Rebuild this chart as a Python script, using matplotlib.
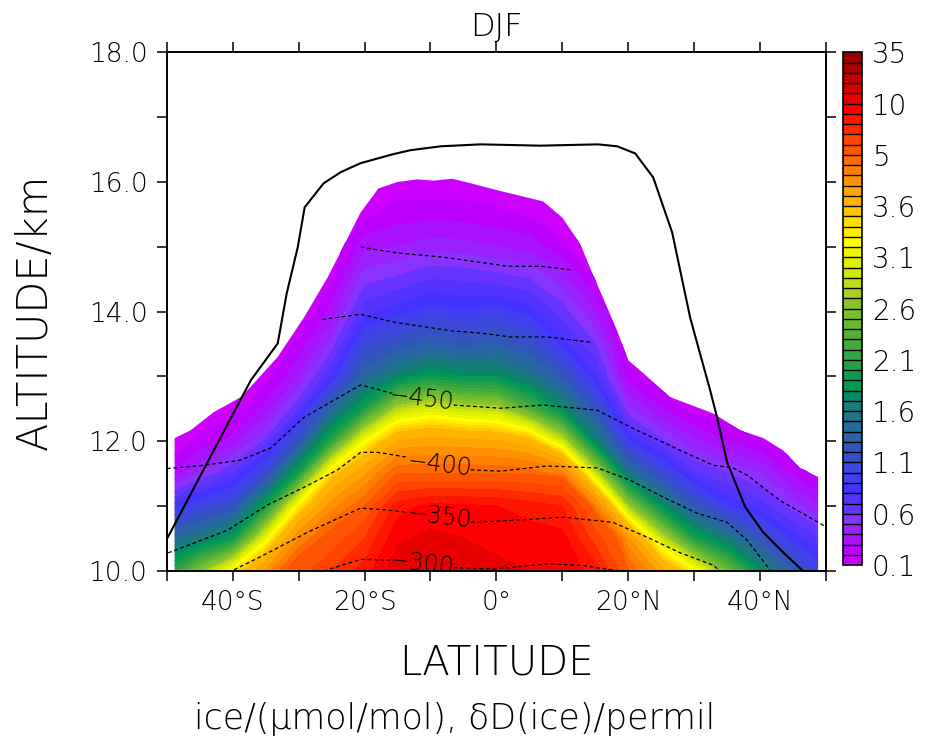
import numpy as np
import matplotlib
matplotlib.use('Agg')
import matplotlib.pyplot as plt
from matplotlib.patches import Polygon

plt.rcParams['font.family'] = ['DejaVu Sans']
plt.rcParams['font.weight'] = 'light'
plt.rcParams['axes.labelweight'] = 'light'
plt.rcParams['axes.titleweight'] = 'light'

# ---- ice mixing ratio (umol/mol) ----
lat = [-48.8, -45, -40, -35, -30, -25, -20, -15, -10, -5, 0,
       5, 10, 15, 20, 25, 30, 35, 40, 45, 48.8]
alt = [10, 10.5, 11, 11.5, 12, 12.5, 13, 13.5, 14, 14.5, 15, 15.5, 16, 16.5]

# one list per latitude, values from 10 km upward
ice_cols = [
    [2.1, 1.45, 0.85, 0.3, 0.13, 0.12, 0.12, 0.12, 0.12, 0.12, 0.12, 0.12, 0.12, 0.12],
    [2.6, 1.6, 1.0, 0.5, 0.22, 0.12, 0.12, 0.12, 0.12, 0.12, 0.12, 0.12, 0.12, 0.12],
    [3.3, 1.9, 1.15, 0.7, 0.33, 0.15, 0.12, 0.12, 0.12, 0.12, 0.12, 0.12, 0.12, 0.12],
    [4.2, 3.1, 1.95, 1.1, 0.62, 0.33, 0.15, 0.12, 0.12, 0.12, 0.12, 0.12, 0.12, 0.12],
    [5.5, 4.4, 3.3, 2.0, 1.2, 0.68, 0.4, 0.22, 0.12, 0.12, 0.12, 0.12, 0.12, 0.12],
    [7.0, 5.3, 4.3, 3.45, 2.1, 1.4, 0.8, 0.53, 0.33, 0.17, 0.12, 0.12, 0.12, 0.12],
    [8.5, 7.0, 5.0, 4.1, 3.2, 2.0, 1.4, 1.05, 0.76, 0.56, 0.36, 0.17, 0.12, 0.12],
    [10.8, 9.8, 8.5, 5.0, 3.9, 2.8, 1.7, 1.2, 0.85, 0.62, 0.4, 0.25, 0.13, 0.12],
    [11.5, 10.3, 9.3, 5.0, 4.0, 3.0, 1.9, 1.3, 0.95, 0.7, 0.45, 0.26, 0.13, 0.12],
    [11.0, 10.0, 9.2, 5.0, 3.95, 2.85, 1.8, 1.25, 0.9, 0.68, 0.44, 0.25, 0.13, 0.12],
    [10.2, 9.8, 9.0, 5.0, 3.9, 2.8, 1.8, 1.3, 0.95, 0.65, 0.4, 0.22, 0.12, 0.12],
    [10.0, 9.6, 8.5, 4.9, 3.7, 2.3, 1.55, 1.15, 0.85, 0.6, 0.36, 0.18, 0.12, 0.12],
    [9.8, 9.4, 8.0, 4.6, 2.9, 1.75, 1.25, 0.85, 0.65, 0.45, 0.22, 0.12, 0.12, 0.12],
    [8.5, 6.5, 4.5, 2.9, 1.7, 1.2, 0.8, 0.6, 0.38, 0.2, 0.12, 0.12, 0.12, 0.12],
    [5.0, 4.2, 2.7, 1.55, 0.9, 0.52, 0.25, 0.12, 0.12, 0.12, 0.12, 0.12, 0.12, 0.12],
    [4.0, 2.9, 1.8, 1.1, 0.62, 0.3, 0.12, 0.12, 0.12, 0.12, 0.12, 0.12, 0.12, 0.12],
    [3.3, 2.0, 1.25, 0.72, 0.42, 0.15, 0.12, 0.12, 0.12, 0.12, 0.12, 0.12, 0.12, 0.12],
    [2.5, 1.6, 0.9, 0.6, 0.3, 0.12, 0.12, 0.12, 0.12, 0.12, 0.12, 0.12, 0.12, 0.12],
    [1.8, 1.2, 0.75, 0.5, 0.2, 0.12, 0.12, 0.12, 0.12, 0.12, 0.12, 0.12, 0.12, 0.12],
    [1.3, 0.85, 0.55, 0.28, 0.12, 0.12, 0.12, 0.12, 0.12, 0.12, 0.12, 0.12, 0.12, 0.12],
    [1.0, 0.7, 0.4, 0.15, 0.12, 0.12, 0.12, 0.12, 0.12, 0.12, 0.12, 0.12, 0.12, 0.12],
]
ice = np.array(ice_cols).T

# upper edge of the ice field (where it ends)
edge_lat = [-48.8, -46.4, -42.9, -38.8, -37.3, -33.2, -29.2, -25.6, -20.6, -17.9,
            -15.0, -12.0, -9.5, -6.7, -3.9, 0.6, 7.1, 10.0, 12.7, 14.2, 18.3,
            20.0, 21.4, 25.2, 26.4, 32.9, 37.0, 40.5, 43.5, 46.1, 48.8]
edge_alt = [12.05, 12.17, 12.45, 12.68, 12.84, 13.3, 13.91, 14.53, 15.53, 15.9,
            16.0, 16.04, 16.02, 16.05, 15.98, 15.86, 15.7, 15.45, 15.05, 14.68, 13.71,
            13.25, 13.13, 12.79, 12.68, 12.43, 12.17, 12.05, 11.86, 11.59, 11.45]

levels = [0.1, 0.2, 0.3, 0.4, 0.5, 0.6, 0.7, 0.8, 0.9, 1.0,
          1.1, 1.2, 1.3, 1.4, 1.5, 1.6, 1.7, 1.8, 1.9, 2.0,
          2.1, 2.2, 2.3, 2.4, 2.5, 2.6, 2.7, 2.8, 2.9, 3.0,
          3.1, 3.2, 3.3, 3.4, 3.5, 3.6, 3.88, 4.16, 4.44, 4.72,
          5, 6, 7, 8, 9, 10, 15, 20, 25, 30, 35]
cb_ticks = [0.1, 0.6, 1.1, 1.6, 2.1, 2.6, 3.1, 3.6, 5, 10, 35]
cb_labels = ['0.1', '0.6', '1.1', '1.6', '2.1', '2.6', '3.1', '3.6', '5', '10', '35']

colors = ['#cc00ff', '#bb00ff', '#aa11ff', '#9922ff', '#8833ff', '#6633ff', '#5533ff',
          '#4433ff', '#4040ee', '#3c48dd', '#3650cc', '#3058bb', '#2b62aa', '#266a9a',
          '#1f7488', '#157e78', '#0a8866', '#009955', '#119950', '#22a048', '#33a540',
          '#44aa40', '#55b038', '#66bb33', '#77c030', '#88c428', '#a8d020', '#c0dc18',
          '#d4e800', '#e0f000', '#eef500', '#ffff00', '#ffee00', '#ffdd00', '#ffc800',
          '#ffb400', '#ffa500', '#ff9000', '#ff7f00', '#ff6a00', '#ff5500', '#ff4400',
          '#ff2a00', '#ff1500', '#ff0000', '#e80000', '#d40000', '#c00000', '#aa0000',
          '#990000']

# ---- solid line ----
tp_lat = [-49.85, -37.27, -33.18, -31.82, -30.15, -29.09, -26.21, -23.64, -20.61,
          -15.61, -13.03, -8.48, -2.42, 6.67, 15.45, 18.33, 21.06, 23.79, 26.67,
          29.39, 32.42, 33.48, 35.0, 37.73, 40.45, 43.48, 46.52]
tp_alt = [10.52, 12.94, 13.51, 14.28, 14.99, 15.61, 15.98, 16.15, 16.29,
          16.43, 16.49, 16.55, 16.58, 16.56, 16.58, 16.55, 16.44, 16.07, 15.22,
          13.91, 12.79, 12.37, 11.68, 10.99, 10.60, 10.29, 10.0]

# ---- dD(ice) contours (permil) ----
d550_lat = [-20.6, -18.0, -14.5, -8.0, -2.4, 1.7, 6.7, 11.7]
d550_alt = [15.0, 14.95, 14.9, 14.84, 14.76, 14.70, 14.70, 14.64]

d500_lat = [-26.4, -20.6, -15.6, -10.5, -6.5, -2.4, 2.1, 7.7, 14.2]
d500_alt = [13.88, 13.96, 13.84, 13.76, 13.70, 13.67, 13.61, 13.61, 13.53]

d450_lat = [-50.0, -45.3, -38.8, -34.2, -29.2, -20.6, -15.8, None,
            -6.5, 0.6, 7.1, 15.3, 20.3, 27.9, 32.9, 35.9, 38.0, 43.0, 50.0]
d450_alt = [11.58, 11.62, 11.71, 11.90, 12.37, 12.87, 12.74, None,
            12.56, 12.51, 12.56, 12.48, 12.22, 11.86, 11.63, 11.59, 11.48, 11.09, 10.68]

d400_lat = [-49.8, -45.9, -40.8, -34.7, -29.2, -24.1, -20.6, -18.0, -13.8, None,
            -3.9, 0.6, 7.7, 15.3, 20.3, 25.3, 30.5, 35.0, 38.0, 41.5]
d400_alt = [10.28, 10.43, 10.63, 11.02, 11.29, 11.56, 11.83, 11.83, 11.76, None,
            11.56, 11.54, 11.62, 11.59, 11.40, 11.14, 10.89, 10.75, 10.48, 10.02]

d350_lat = [-39.8, -35.8, -28.6, -20.6, -16.5, -13.8, None,
            -3.9, 0.6, 10.2, 17.7, 22.9, 27.9, 32.9, 33.9]
d350_alt = [10.02, 10.22, 10.60, 10.97, 10.94, 10.91, None,
            10.75, 10.77, 10.83, 10.75, 10.52, 10.28, 10.09, 10.0]

d300_lat = [-26.2, -20.6, -16.5, -16.1, None, -6.5, -0.5, 7.7, 12.7, 18.8]
d300_alt = [10.0, 10.18, 10.17, 10.17, None, 10.05, 10.03, 10.11, 10.09, 10.0]

lab_text = ['\u2212450', '\u2212400', '\u2212350', '\u2212300']
lab_lat = [-11.3, -8.6, -8.6, -11.3]
lab_alt = [12.66, 11.64, 10.84, 10.11]

# ---- figure ----
fig = plt.figure(figsize=(9.27, 7.47), dpi=100)
ax = fig.add_axes([0.180, 0.2356, 0.711, 0.6944])
cax = fig.add_axes([0.9095, 0.2436, 0.0205, 0.6864])

cf = ax.contourf(lat, alt, ice, levels=levels, colors=colors)
cf.set_edgecolor('face')
cf.set_linewidth(0.3)
clip = Polygon(list(zip(edge_lat, edge_alt)) + [(edge_lat[-1], 9.0), (edge_lat[0], 9.0)],
               closed=True, transform=ax.transData, facecolor='none', edgecolor='none')
ax.add_patch(clip)
cf.set_clip_path(clip)

ax.plot(tp_lat, tp_alt, color='black', lw=1.5)

dash = (0, (3.0, 2.2))
for xs, ys in [(d550_lat, d550_alt), (d500_lat, d500_alt), (d450_lat, d450_alt),
               (d400_lat, d400_alt), (d350_lat, d350_alt), (d300_lat, d300_alt)]:
    xx = np.array([np.nan if v is None else v for v in xs], dtype=float)
    yy = np.array([np.nan if v is None else v for v in ys], dtype=float)
    ax.plot(xx, yy, color='black', lw=0.9, linestyle=dash)

for t, x, y in zip(lab_text, lab_lat, lab_alt):
    ax.text(x, y, t, fontsize=17, ha='center', va='center', rotation=-7,
            clip_on=True)

ax.set_xlim(-50, 50)
ax.set_ylim(10, 18)
ax.set_xticks([-40, -20, 0, 20, 40])
ax.set_xticklabels(['40°S', '20°S', '0°', '20°N', '40°N'])
ax.set_xticks([-50, -30, -10, 10, 30, 50], minor=True)
ax.set_yticks([10, 12, 14, 16, 18])
ax.set_yticklabels(['10.0', '12.0', '14.0', '16.0', '18.0'])
ax.set_yticks([11, 13, 15, 17], minor=True)
ax.tick_params(which='both', direction='out', length=7, width=1.1,
               top=True, right=True, labelsize=19, pad=7)
for s in ax.spines.values():
    s.set_linewidth(1.4)

ax.set_xlabel('LATITUDE', fontsize=29, labelpad=20)
ax.set_ylabel('ALTITUDE/km', fontsize=30, labelpad=24)
ax.set_title('DJF', fontsize=23, pad=12)

cb = fig.colorbar(cf, cax=cax, ticks=cb_ticks, drawedges=True)
cb.ax.set_yticklabels(cb_labels)
cb.ax.tick_params(length=0, labelsize=20, pad=7)
cb.outline.set_linewidth(1.2)
cb.dividers.set_color('black')
cb.dividers.set_linewidth(1.0)

fig.text(0.49, 0.038, 'ice/(\u03bcmol/mol), \u03b4D(ice)/permil', fontsize=25,
         ha='center', va='center')

fig.savefig('out.png', dpi=100)
